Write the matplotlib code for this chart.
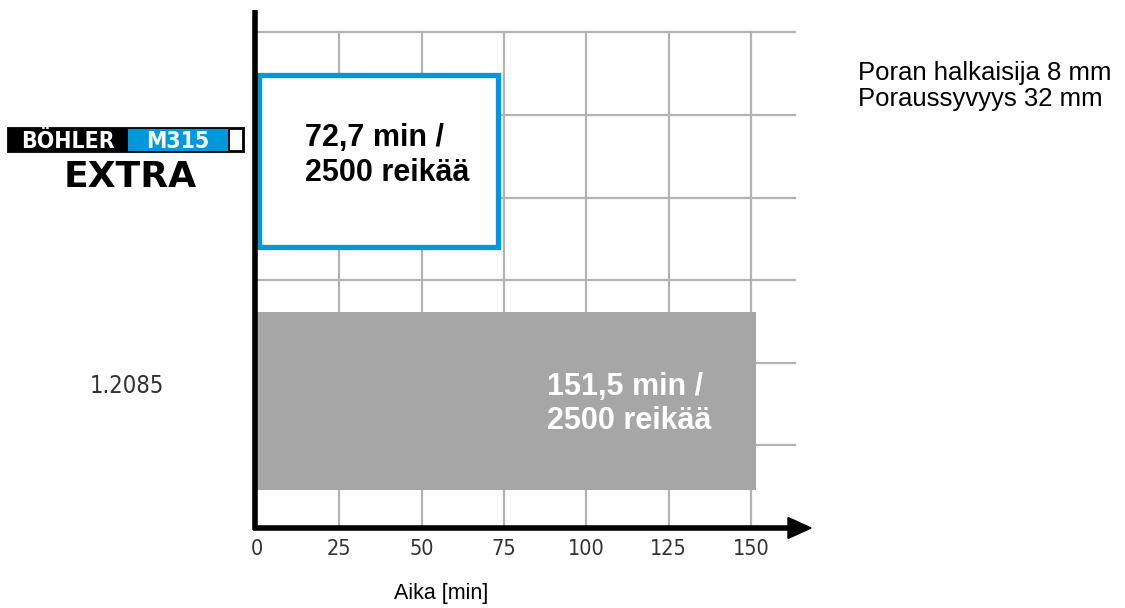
import matplotlib.pyplot as plt
from matplotlib.patches import Rectangle, FancyArrow

# data
materials = ["BÖHLER M315 EXTRA", "1.2085"]
times = [72.7, 151.5]
bar_pos = [4.44, 1.54]
bar_labels = ["72,7 min /\n2500 reikää", "151,5 min /\n2500 reikää"]
x_ticks = [0, 25, 50, 75, 100, 125, 150]
y_grid = [1, 2, 3, 4, 5, 6]
info_lines = ["Poran halkaisija 8 mm", "Poraussyvyys 32 mm"]
x_title = "Aika [min]"

W, H = 1125, 608
fig = plt.figure(figsize=(W / 100, H / 100), dpi=100)

narrow = dict(family="DejaVu Sans", stretch="condensed")


def fx(px):
    return px / W


def fy(py):
    return 1 - py / H


# axes covers the whole figure, limits chosen so 0 min sits on the axis line
ax = fig.add_axes([0, 0, 1, 1])
sx = (751 - 257) / 150.0
sy = 82.6
ax.set_xlim(-257 / sx, (W - 257) / sx)
ax.set_ylim(-(H - 528) / sy, 528 / sy)
ax.axis("off")

grid_col = "#b3b3b3"
x_end = (795 - 257) / sx
for g in y_grid:
    ax.plot([0, x_end], [g, g], color=grid_col, lw=1.6, zorder=1)
for t in x_ticks[1:]:
    ax.plot([t, t], [0, y_grid[-1]], color=grid_col, lw=1.6, zorder=1)

# bars
ax.barh(bar_pos[1], times[1], height=2.155, left=0, color="#a6a6a6",
        edgecolor="none", zorder=2)
ax.barh(bar_pos[0], times[0], height=2.08, left=0.5, color="white",
        edgecolor="#0097db", linewidth=3.8, zorder=2)

ax.text(14.6, bar_pos[0] + 0.07, bar_labels[0], ha="left", va="center",
        fontsize=22, fontweight="bold", family="Liberation Sans",
        color="black", zorder=3)
ax.text(88, bar_pos[1] - 0.04, bar_labels[1], ha="left", va="center",
        fontsize=22, fontweight="bold", family="Liberation Sans",
        color="white", zorder=3)

# axis lines
top_y = (528 - 10) / sy
ax.plot([-0.6, -0.6], [-0.03, top_y], color="black", lw=4,
        solid_capstyle="butt", zorder=4)
ax.plot([-1.3, (792 - 257) / sx], [0, 0], color="black", lw=4,
        solid_capstyle="butt", zorder=4)
ax.add_patch(FancyArrow((788 - 257) / sx, 0, (811 - 788) / sx, 0,
                        width=0, head_width=21 / sy, head_length=(811 - 788) / sx,
                        length_includes_head=True, color="black", zorder=4))

# tick labels
for t in x_ticks:
    ax.text(t, -(549 - 528) / sy, str(t), ha="center", va="center",
            fontsize=15.5, color="#333333", **narrow)

ax.text(fx(441), fy(593), x_title, transform=fig.transFigure,
        ha="center", va="center", fontsize=15.5, family="Liberation Sans")

# right note
fig.text(fx(858), fy(73), info_lines[0], ha="left", va="center",
         fontsize=18.5, family="Liberation Sans")
fig.text(fx(858), fy(99), info_lines[1], ha="left", va="center",
         fontsize=18.5, family="Liberation Sans")

# category label for the gray bar
fig.text(fx(127), fy(386), materials[1], ha="center", va="center",
         fontsize=17, color="#333333", **narrow)

# logo drawn from boxes and text
def frect(x0, y0, x1, y1, **kw):
    fig.patches.append(Rectangle((fx(x0), fy(y1)), fx(x1 - x0), (y1 - y0) / H,
                                 transform=fig.transFigure, figure=fig, **kw))


frect(8, 128, 128, 152, facecolor="black", edgecolor="none")
frect(128, 128, 229, 152, facecolor="#0097db", edgecolor="none")
frect(229, 129, 243, 151, facecolor="white", edgecolor="black", linewidth=1.3)
frect(8, 128, 244, 152, facecolor="none", edgecolor="black", linewidth=1.3)
fig.text(fx(68), fy(140), "BÖHLER", ha="center", va="baseline", fontsize=16.5,
         fontweight="bold", color="white", **narrow).set_y(fy(148))
fig.text(fx(178), fy(148), "M315", ha="center", va="baseline", fontsize=16.5,
         fontweight="bold", color="white", **narrow)
fig.text(fx(130), fy(177), "EXTRA", ha="center", va="center", fontsize=26,
         fontweight="bold", family="DejaVu Sans", color="black")

fig.savefig("out.png", dpi=100)
